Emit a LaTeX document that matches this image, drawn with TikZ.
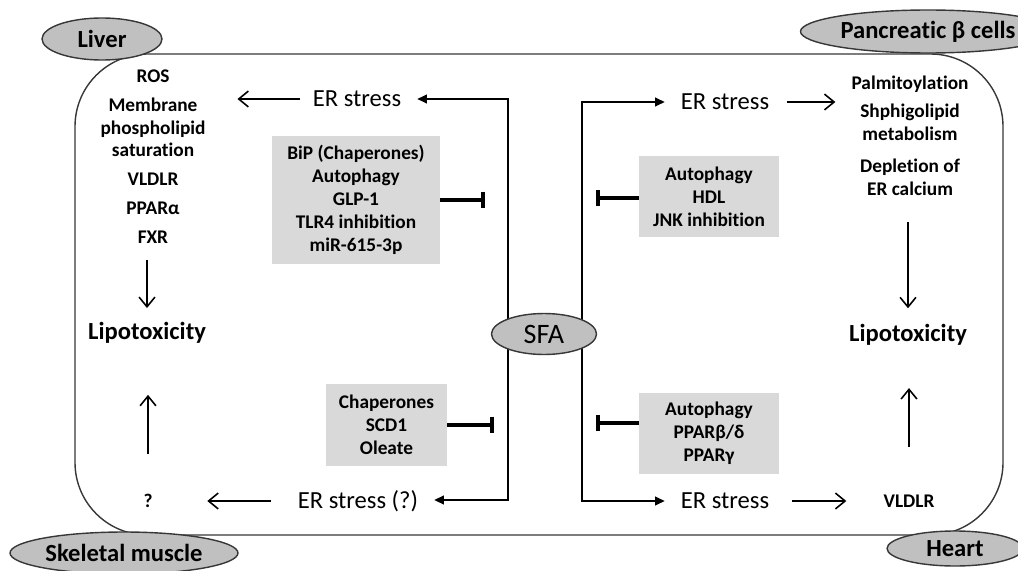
\documentclass[tikz,border=0pt]{standalone}
\usepackage{fontspec}
\setmainfont{Carlito}[Ligatures=NoCommon]
\usetikzlibrary{shapes.geometric,arrows.meta}
\definecolor{ovalgray}{RGB}{192,192,192}
\definecolor{boxgray}{RGB}{217,217,217}
\definecolor{linegray}{RGB}{55,55,55}
\begin{document}
\begin{tikzpicture}[x=0.02cm,y=-0.02cm,
    oval/.style={ellipse, draw=linegray, fill=ovalgray, line width=0.8pt, inner sep=0pt, font=\fontsize{14}{16}\selectfont\bfseries},
    graybox/.style={fill=boxgray, inner sep=0pt, align=center, font=\fontsize{11}{13}\selectfont\bfseries},
    txt/.style={inner sep=0pt, align=center, font=\fontsize{11}{13}\selectfont\bfseries},
    erlab/.style={inner sep=0pt, font=\fontsize{14}{16}\selectfont},
    liplab/.style={inner sep=0pt, font=\fontsize{14}{16}\selectfont\bfseries},
    fillboth/.style={{Triangle[length=5.5pt,width=5pt]}-{Triangle[length=5.5pt,width=5pt]}, line width=0.9pt, shorten <=9pt, shorten >=9pt},
    openarr/.style={-{Straight Barb[length=5.5pt,width=9pt]}, line width=0.9pt},
    inhib/.style={-{Bar[width=9.5pt]}, line width=2pt}]
            \useasboundingbox (0,0) rectangle (1018,571);
            \draw[linegray, line width=0.8pt, rounded corners=1.45cm] (75,54) rectangle (1003,535);

            \node[oval, minimum width=2.4cm, minimum height=0.84cm] (liver) at (102,39) {Liver};
            \node[oval, minimum width=5.1cm, minimum height=0.86cm] (pancreas) at (928,31.5) {Pancreatic β cells};
            \node[oval, minimum width=4.56cm, minimum height=0.84cm] (muscle) at (124,553) {Skeletal muscle};
            \node[oval, minimum width=2.72cm, minimum height=0.7cm] (heart) at (955,548.5) {Heart};

            \node[txt] (liverlist) at (153,156.5) {ROS\\[3.4pt]Membrane\\phospholipid\\saturation\\[3.4pt]VLDLR\\[3.4pt]PPARα\\[3.4pt]FXR};
            \node[txt] (betalist) at (910,135.5) {Palmitoylation\\[3.4pt]Shphigolipid\\metabolism\\[5pt]Depletion of\\ER calcium};
            \node[liplab] (liplt) at (147,333) {Lipotoxicity};
            \node[liplab] (liprt) at (908,335) {Lipotoxicity};
            \node[txt] (qmark) at (148,501) {?};
            \node[txt] (vldlrh) at (909,501) {VLDLR};

            \node[graybox, minimum width=3.36cm, minimum height=2.56cm] (box1) at (356,200) {BiP (Chaperones)\\Autophagy\\GLP-1\\TLR4 inhibition\\miR-615-3p};
            \node[graybox, minimum width=2.8cm, minimum height=1.62cm] (box2) at (709,196.5) {Autophagy\\HDL\\JNK inhibition};
            \node[graybox, minimum width=2.42cm, minimum height=1.64cm] (box3) at (386.5,425) {Chaperones\\SCD1\\Oleate};
            \node[graybox, minimum width=2.8cm, minimum height=1.62cm] (box4) at (709,433.5) {Autophagy\\PPARβ/δ\\PPARγ};

            \node[erlab] (ertl) at (357,99) {ER stress};
            \node[erlab] (ertr) at (725,102) {ER stress};
            \node[erlab] (erbl) at (358,501) {ER stress (?)};
            \node[erlab] (erbr) at (725,501) {ER stress};

            \coordinate (ltop) at (508,99);
            \coordinate (lbot) at (508,500);
            \coordinate (rtop) at (582,102);
            \coordinate (rbot) at (582,501);
            \coordinate (inha) at (485,200);
            \coordinate (inhb) at (596,198);
            \coordinate (inhc) at (494,425);
            \coordinate (inhd) at (596,423);

            \draw[fillboth] (ertl.east |- ltop) -- (ltop) -- (lbot) -- (erbl.east |- lbot);
            \draw[fillboth] (ertr.west |- rtop) -- (rtop) -- (rbot) -- (erbr.west |- rbot);
            \node[oval, minimum width=2.1cm, minimum height=0.82cm, font=\fontsize{16}{18}\selectfont] (sfa) at (544,334) {SFA};

            \draw[openarr, shorten <=7pt, shorten >=18pt] (ertl.west) -- (liverlist.east |- ertl.west);
            \draw[openarr, shorten <=10pt, shorten >=9pt] (ertr.east) -- (betalist.west |- ertr.east);
            \draw[openarr, shorten <=15pt, shorten >=31pt] (erbl.west) -- (qmark.east |- erbl.west);
            \draw[openarr, shorten <=13pt, shorten >=21pt] (erbr.east) -- (vldlrh.west);

            \draw[openarr, shorten <=9.5pt, shorten >=8pt] (liplt.north |- liverlist.south) -- (liplt.north);
            \draw[openarr, shorten <=23pt, shorten >=29pt] (qmark.north) -- (qmark.north |- liplt.south);
            \draw[openarr, shorten <=15pt, shorten >=9pt] (liprt.north |- betalist.south) -- (liprt.north);
            \draw[openarr, shorten <=27pt, shorten >=24pt] (vldlrh.north) -- (vldlrh.north |- liprt.south);

            \draw[inhib] (box1.east |- inha) -- (inha);
            \draw[inhib] (box2.west |- inhb) -- (inhb);
            \draw[inhib] (box3.east |- inhc) -- (inhc);
            \draw[inhib] (box4.west |- inhd) -- (inhd);
        \end{tikzpicture}
\end{document}
